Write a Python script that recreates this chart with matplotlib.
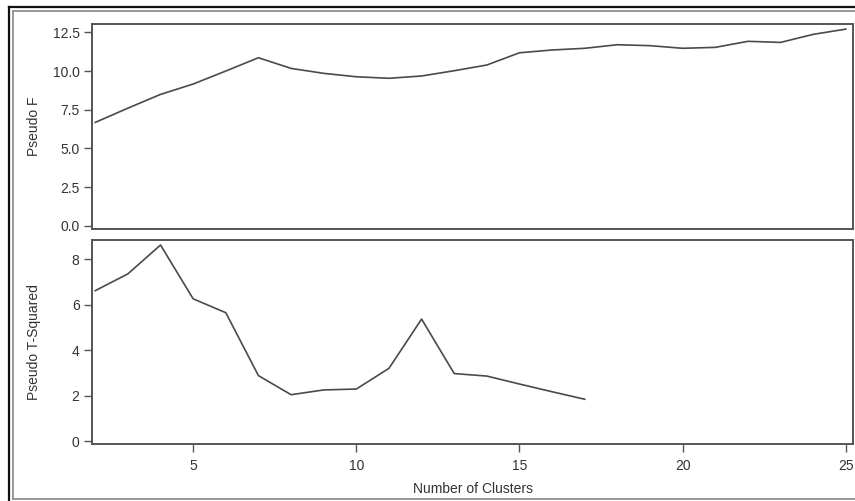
import matplotlib.pyplot as plt
from matplotlib.lines import Line2D

plt.rcParams['font.family'] = ['Liberation Sans', 'DejaVu Sans']

clusters = list(range(2, 26))
pseudo_f = [6.68, 7.6, 8.49, 9.16, 10.0, 10.86, 10.17, 9.85, 9.63, 9.53, 9.68, 10.02,
            10.39, 11.18, 11.36, 11.47, 11.70, 11.64, 11.47, 11.53, 11.92, 11.85, 12.37, 12.71]
t_clusters = list(range(2, 18))
pseudo_t2 = [6.62, 7.36, 8.63, 6.26, 5.65, 2.88, 2.04, 2.25, 2.29, 3.2, 5.37, 2.97,
             2.86, 2.51, 2.17, 1.84]

f_ticks = [0.0, 2.5, 5.0, 7.5, 10.0, 12.5]
t_ticks = [0, 2, 4, 6, 8]
x_ticks = [5, 10, 15, 20, 25]

W, H = 855, 501
fig = plt.figure(figsize=(W / 100, H / 100), dpi=100)
fig.patch.set_facecolor('white')


def frame_line(xs, ys, color, lw):
    fig.add_artist(Line2D([x / W for x in xs], [1 - y / H for y in ys],
                          transform=fig.transFigure, color=color, linewidth=lw))


# double frame, cut off on the right side like the original screenshot
frame_line([8.5, 855], [7, 7], '#111111', 1.6)
frame_line([8.5, 8.5], [7, 501], '#111111', 1.6)
frame_line([12.5, 855], [11, 11], '#888888', 1.2)
frame_line([12.5, 12.5], [11, 499], '#888888', 1.2)
frame_line([12.5, 855], [499, 499], '#888888', 1.2)

ax1 = fig.add_axes([92 / W, 1 - 229 / H, 761 / W, 205 / H])
ax2 = fig.add_axes([92 / W, 1 - 444 / H, 761 / W, 204 / H])

line_c = '#4a4a4a'
spine_c = '#555555'

ax1.plot(clusters, pseudo_f, color=line_c, linewidth=1.2)
ax2.plot(t_clusters, pseudo_t2, color=line_c, linewidth=1.2)

for ax in (ax1, ax2):
    ax.set_xlim(1.9, 25.22)
    for s in ax.spines.values():
        s.set_color(spine_c)
        s.set_linewidth(1.4)
    ax.tick_params(axis='y', direction='out', length=6, width=1.0, color=spine_c,
                   labelsize=10, labelcolor='#333333', pad=3)

ax1.set_ylim(-0.21, 13.04)
ax1.set_yticks(f_ticks)
ax1.set_yticklabels([f'{v:.1f}' for v in f_ticks])
ax1.set_xticks([])
ax1.set_ylabel('Pseudo F', fontsize=10, color='#333333')
ax1.yaxis.set_label_coords(-51 / 761, 0.5)

ax2.set_ylim(-0.13, 8.85)
ax2.set_yticks(t_ticks)
ax2.set_xticks(x_ticks)
ax2.tick_params(axis='x', direction='out', length=6, width=1.0, color=spine_c,
                labelsize=10, labelcolor='#333333', pad=5)
ax2.set_ylabel('Pseudo T-Squared', fontsize=10, color='#333333')
ax2.yaxis.set_label_coords(-51 / 761, 0.5)
ax2.set_xlabel('Number of Clusters', fontsize=10, color='#333333', labelpad=6)

fig.savefig('out.png', dpi=100)
